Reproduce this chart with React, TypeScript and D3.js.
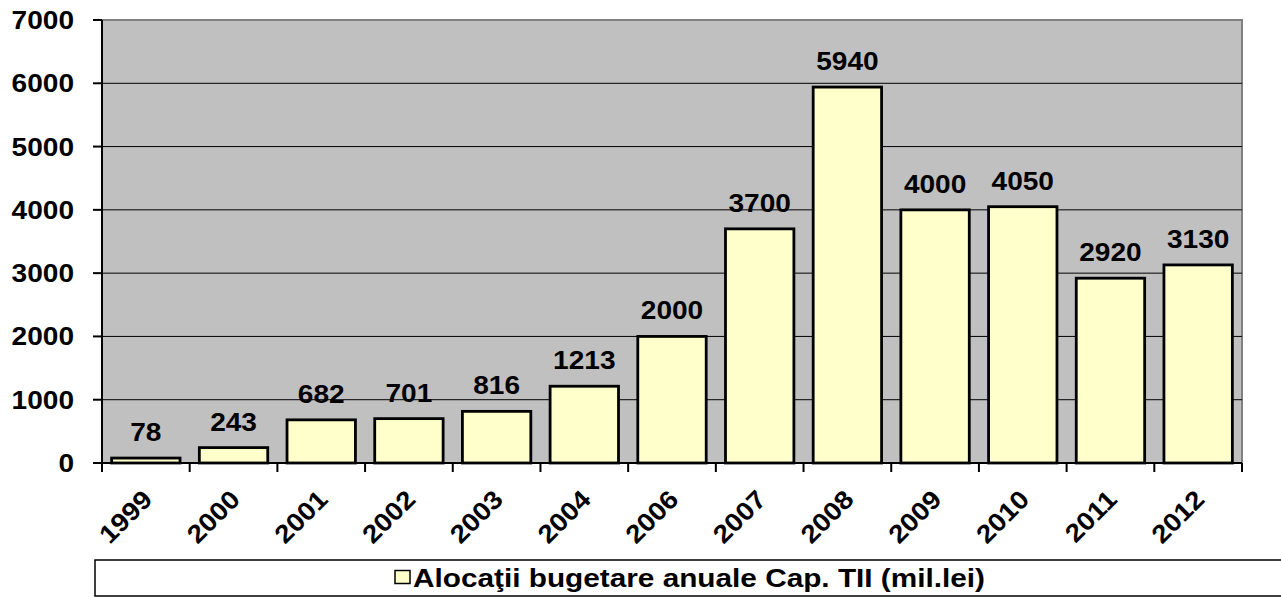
import React from "react";
import * as d3 from "d3";

const years = ["1999", "2000", "2001", "2002", "2003", "2004", "2006", "2007", "2008", "2009", "2010", "2011", "2012"];
const values = [78, 243, 682, 701, 816, 1213, 2000, 3700, 5940, 4000, 4050, 2920, 3130];
const yTicks = [0, 1000, 2000, 3000, 4000, 5000, 6000, 7000];
const legendLabel = "Alocaţii bugetare anuale Cap. TII (mil.lei)";

const W = 1281;
const H = 597;
const M = { left: 102, right: 1242, top: 20, bottom: 463 };
const FONT = "'Liberation Sans', Arial, sans-serif";
const SX = 1.1;

export default function App() {
  const x = d3.scaleBand<string>().domain(years).range([M.left, M.right]).paddingInner(0.22).paddingOuter(0.11);
  const y = d3.scaleLinear().domain([0, 7000]).range([M.bottom, M.top]);
  const step = x.step();
  return (
    <svg width={W} height={H} style={{ position: "absolute", left: 0, top: 0, background: "#fff" }}>
      <rect x={M.left} y={M.top} width={M.right - M.left} height={M.bottom - M.top} fill="#C0C0C0" stroke="#808080" strokeWidth={2} />
      {yTicks.filter((t) => t > 0 && t < 7000).map((t) => (
        <line key={t} x1={M.left} x2={M.right} y1={y(t)} y2={y(t)} stroke="#000" strokeWidth={1} />
      ))}
      {years.map((yr, i) => (
        <rect key={yr} x={x(yr)} y={y(values[i])} width={x.bandwidth()} height={y(0) - y(values[i])} fill="#FFFFCC" stroke="#000" strokeWidth={2.8} />
      ))}
      {years.map((yr, i) => (
        <text key={yr} transform={`translate(${(x(yr) as number) + x.bandwidth() / 2},${y(values[i]) - 17}) scale(${SX},1)`} textAnchor="middle" fontFamily={FONT} fontWeight="bold" fontSize={25.5} fill="#000">
          {values[i]}
        </text>
      ))}
      {/* y axis */}
      <line x1={M.left} x2={M.left} y1={M.top} y2={M.bottom} stroke="#000" strokeWidth={2} />
      {yTicks.map((t) => (
        <g key={t}>
          <line x1={M.left - 9} x2={M.left} y1={y(t)} y2={y(t)} stroke="#000" strokeWidth={2} />
          <text transform={`translate(74,${y(t) + 9}) scale(${SX},1)`} textAnchor="end" fontFamily={FONT} fontWeight="bold" fontSize={25.5} fill="#000">
            {t}
          </text>
        </g>
      ))}
      {/* x axis */}
      <line x1={M.left} x2={M.right} y1={M.bottom} y2={M.bottom} stroke="#000" strokeWidth={2} />
      {d3.range(years.length + 1).map((i) => (
        <line key={i} x1={M.left + i * step} x2={M.left + i * step} y1={M.bottom} y2={M.bottom + 9} stroke="#000" strokeWidth={2} />
      ))}
      {years.map((yr) => {
        const cx = (x(yr) as number) + x.bandwidth() / 2;
        return (
          <text key={yr} transform={`translate(${cx + 8},${M.bottom + 38}) rotate(-45) scale(${SX},1)`} textAnchor="end" fontFamily={FONT} fontWeight="bold" fontSize={25.5} fill="#000">
            {yr}
          </text>
        );
      })}
      {/* legend */}
      <rect x={95} y={560} width={1200} height={36} fill="#fff" stroke="#000" strokeWidth={1.5} />
      <rect x={395} y={570.5} width={15} height={13} fill="#FFFFCC" stroke="#000" strokeWidth={1.5} />
      <text x={413} y={587} textLength={572} lengthAdjust="spacingAndGlyphs" fontFamily={FONT} fontWeight="bold" fontSize={25.5} fill="#000">
        {legendLabel}
      </text>
    </svg>
  );
}
